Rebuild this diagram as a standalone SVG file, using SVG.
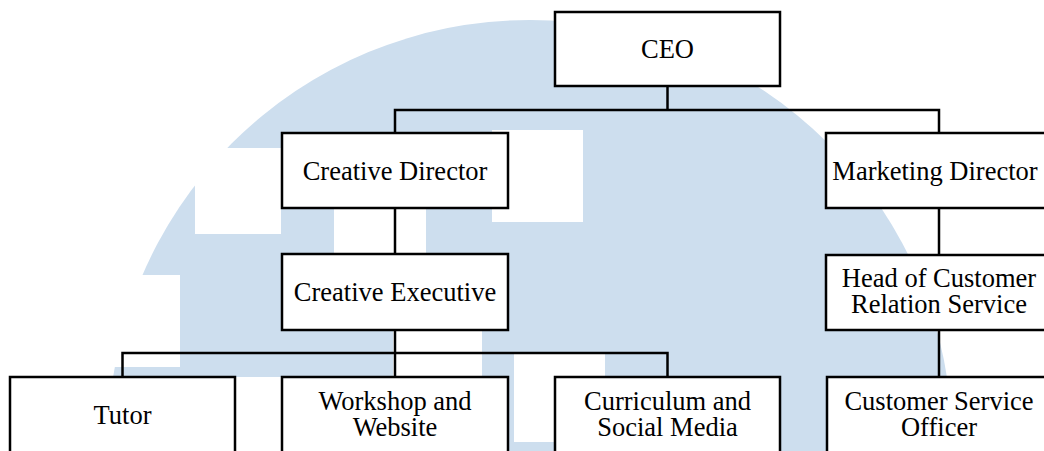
<svg xmlns="http://www.w3.org/2000/svg" width="1044" height="451" viewBox="0 0 1044 451">
  <style>
    .box { fill: #ffffff; stroke: #000000; stroke-width: 2.5; }
    .lbl { font-family: "Liberation Serif", "Times New Roman", serif; font-size: 26.5px; fill: #000000; text-anchor: middle; }
    .wm { fill: #cddeee; }
    .cut { fill: #ffffff; }
    .conn { fill: none; stroke: #000000; stroke-width: 2.5; }
  </style>
  <rect x="0" y="0" width="1044" height="451" fill="#ffffff"/>
  <g id="watermark">
    <circle class="wm" cx="530" cy="442" r="422"/>
    <rect class="cut" x="195" y="148" width="86" height="86"/>
    <rect class="cut" x="0" y="275" width="180" height="92"/>
    <rect class="cut" x="0" y="377" width="282" height="74"/>
    <rect class="cut" x="492" y="130" width="91" height="92"/>
    <rect class="cut" x="334" y="208" width="92" height="46"/>
    <rect class="cut" x="393" y="330" width="89" height="47"/>
    <rect class="cut" x="514" y="352" width="91" height="90"/>
  </g>
  <g id="connectors">
    <polyline class="conn" points="667.5,86 667.5,110"/>
    <polyline class="conn" points="395,133 395,110 939,110 939,133"/>
    <line class="conn" x1="395" y1="208" x2="395" y2="254"/>
    <line class="conn" x1="939" y1="208" x2="939" y2="255"/>
    <line class="conn" x1="939" y1="330" x2="939" y2="377"/>
    <line class="conn" x1="395" y1="330" x2="395" y2="377"/>
    <polyline class="conn" points="122.5,377 122.5,353 667.5,353 667.5,377"/>
  </g>
  <g id="ceo">
    <rect class="box" x="555" y="12" width="225" height="74"/>
    <text class="lbl" x="667.5" y="58">CEO</text>
  </g>
  <g id="creative-director">
    <rect class="box" x="282" y="133" width="226" height="75"/>
    <text class="lbl" x="395" y="180">Creative Director</text>
  </g>
  <g id="marketing-director">
    <rect class="box" x="826" y="133" width="226" height="75"/>
    <text class="lbl" x="935" y="180">Marketing Director</text>
  </g>
  <g id="creative-executive">
    <rect class="box" x="282" y="254" width="226" height="76"/>
    <text class="lbl" x="395" y="301">Creative Executive</text>
  </g>
  <g id="head-customer-relation">
    <rect class="box" x="826" y="255" width="226" height="75"/>
    <text class="lbl" x="939" y="287">Head of Customer<tspan x="939" y="313">Relation Service</tspan></text>
  </g>
  <g id="tutor">
    <rect class="box" x="10" y="377" width="225" height="76"/>
    <text class="lbl" x="122.5" y="424">Tutor</text>
  </g>
  <g id="workshop-website">
    <rect class="box" x="282" y="377" width="226" height="76"/>
    <text class="lbl" x="395" y="410">Workshop and<tspan x="395" y="436">Website</tspan></text>
  </g>
  <g id="curriculum-social">
    <rect class="box" x="555" y="377" width="225" height="76"/>
    <text class="lbl" x="667.5" y="410">Curriculum and<tspan x="667.5" y="436">Social Media</tspan></text>
  </g>
  <g id="customer-service-officer">
    <rect class="box" x="827" y="377" width="225" height="76"/>
    <text class="lbl" x="939" y="410">Customer Service<tspan x="939" y="436">Officer</tspan></text>
  </g>
</svg>
